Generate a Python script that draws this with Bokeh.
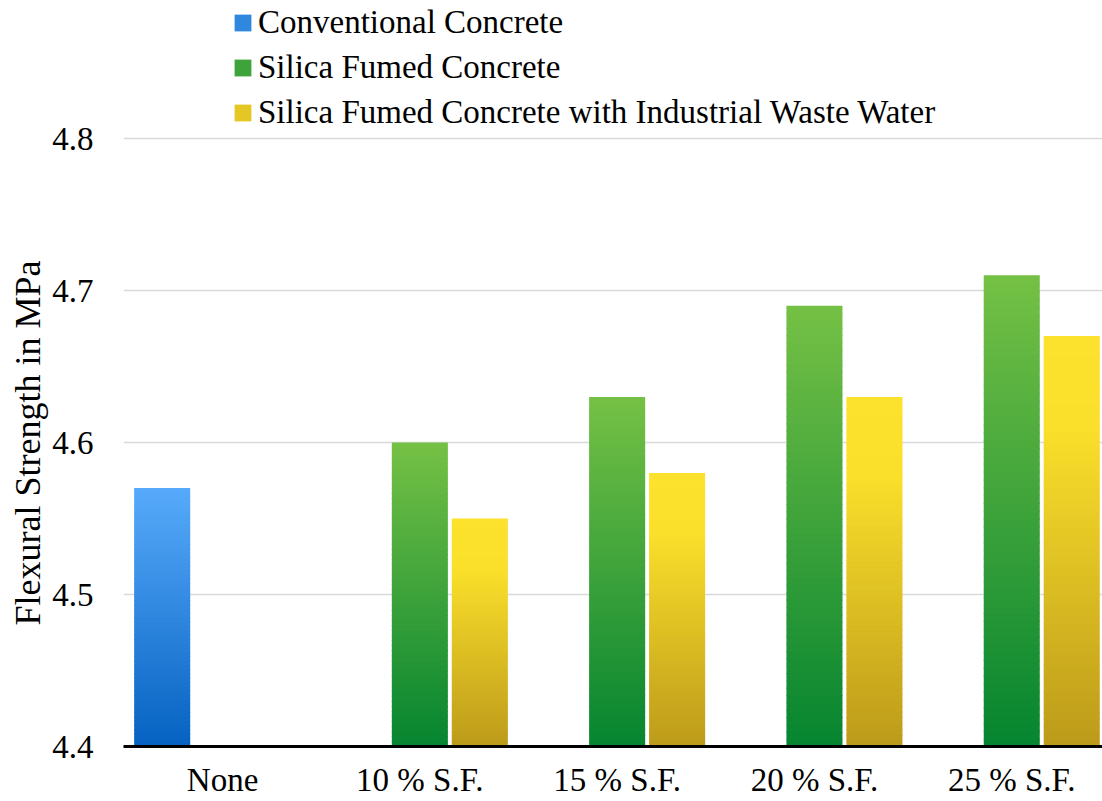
import numpy as np
from bokeh.plotting import figure
from bokeh.models import (Range1d, FixedTicker, Legend, LegendItem,
                          ColumnDataSource, Title)
from bokeh.embed import file_html
from bokeh.resources import INLINE

# ---- data ----
categories = ["None", "10 % S.F.", "15 % S.F.", "20 % S.F.", "25 % S.F."]
series_names = ["Conventional Concrete", "Silica Fumed Concrete",
                "Silica Fumed Concrete with Industrial Waste Water"]
conventional = [4.57, None, None, None, None]
silica_fumed = [None, 4.60, 4.63, 4.69, 4.71]
silica_iww = [None, 4.55, 4.58, 4.63, 4.67]
y_ticks = [4.4, 4.5, 4.6, 4.7, 4.8]
y_title = "Flexural Strength in MPa"

# ---- styling ----
BASE = 4.4
FONT = "Liberation Serif"
BAR_W = 0.284
OFFSETS = [-0.306, 0.0, 0.304]
GRADIENTS = [
    [(0.0, "#0562C1"), (1.0, "#57AAFA")],
    [(0.0, "#058430"), (1.0, "#75C145")],
    [(0.0, "#BC9A1A"), (0.78, "#FADF2B"), (1.0, "#FCE22D")],
]
N_SLICES = 60
EPS = 0.0006
W, H = 1102, 801
FRAME_LEFT, FRAME_BOTTOM_GAP = 123, 55
PX_PER_CAT = 197.3
PX_PER_TENTH = 152.0


def hex2rgb(h):
    h = h.lstrip("#")
    return np.array([int(h[i:i + 2], 16) for i in (0, 2, 4)], dtype=float)


def color_at(stops, f):
    for (f0, c0), (f1, c1) in zip(stops[:-1], stops[1:]):
        if f <= f1:
            t = 0 if f1 == f0 else (f - f0) / (f1 - f0)
            rgb = hex2rgb(c0) * (1 - t) + hex2rgb(c1) * t
            return "#%02x%02x%02x" % tuple(int(round(v)) for v in rgb)
    return stops[-1][1]


frame_h = H - FRAME_BOTTOM_GAP
x0 = -0.502
x1 = x0 + (W - FRAME_LEFT) / PX_PER_CAT
y1 = BASE + 0.1 * frame_h / PX_PER_TENTH

p = figure(width=W, height=H, output_backend="svg", toolbar_location=None,
           x_range=Range1d(x0, x1), y_range=Range1d(BASE, y1),
           min_border_left=FRAME_LEFT, min_border_right=0, min_border_top=0,
           min_border_bottom=FRAME_BOTTOM_GAP)
p.outline_line_color = None
p.background_fill_color = "white"

all_series = [conventional, silica_fumed, silica_iww]
bar_renderers = []
for s_idx, values in enumerate(all_series):
    xs, tops, bots, cols = [], [], [], []
    for c_idx, v in enumerate(values):
        if v is None:
            continue
        for k in range(1, N_SLICES + 1):
            f0 = (k - 1) / N_SLICES
            f1 = k / N_SLICES
            xs.append(c_idx + OFFSETS[s_idx])
            bots.append(BASE + (v - BASE) * f0 - (EPS if k > 1 else 0))
            tops.append(BASE + (v - BASE) * f1)
            cols.append(color_at(GRADIENTS[s_idx], (f0 + f1) / 2))
    src = ColumnDataSource(dict(x=xs, top=tops, bottom=bots, color=cols))
    r = p.vbar(x="x", top="top", bottom="bottom", width=BAR_W,
               fill_color="color", line_color=None, source=src)
    bar_renderers.append(r)

legend_items = [LegendItem(label=name, renderers=[r], index=N_SLICES // 2)
                for name, r in zip(series_names, bar_renderers)]
legend = Legend(items=legend_items, location=(109, frame_h - 131))
legend.glyph_width = 21
legend.glyph_height = 21
legend.label_standoff = 5
legend.label_text_font = FONT
legend.label_text_font_size = "33px"
legend.label_text_color = "black"
legend.label_height = 36
legend.spacing = 8
legend.padding = 0
legend.margin = 0
legend.border_line_color = None
legend.background_fill_alpha = 0
p.add_layout(legend, "center")

# x axis
p.xaxis.ticker = FixedTicker(ticks=list(range(len(categories))))
p.xaxis.major_label_overrides = {i: c for i, c in enumerate(categories)}
p.xaxis.major_label_text_font = FONT
p.xaxis.major_label_text_font_size = "33px"
p.xaxis.major_label_text_color = "black"
p.xaxis.major_label_standoff = 15
p.xaxis.axis_line_color = "black"
p.xaxis.axis_line_width = 3
p.xaxis.major_tick_line_color = None
p.xaxis.minor_tick_line_color = None
p.xaxis.major_tick_out = 0
p.xaxis.major_tick_in = 0
p.xgrid.grid_line_color = None

# y axis
p.yaxis.ticker = FixedTicker(ticks=y_ticks)
p.yaxis.major_label_text_font = FONT
p.yaxis.major_label_text_font_size = "33px"
p.yaxis.major_label_text_color = "black"
p.yaxis.major_label_standoff = 30
p.yaxis.axis_line_color = None
p.yaxis.major_tick_line_color = None
p.yaxis.minor_tick_line_color = None
p.yaxis.major_tick_out = 0
p.yaxis.major_tick_in = 0
p.ygrid.grid_line_color = "#D9D9D9"
p.ygrid.grid_line_width = 1.5

# y axis title (placed alongside the 4.4-4.8 part of the frame)
ytitle = Title(text=y_title, align="left", offset=121, standoff=4,
               text_font=FONT, text_font_size="36px",
               text_font_style="normal", text_color="black")
p.add_layout(ytitle, "left")

open("out.html", "w").write(file_html(p, INLINE))
